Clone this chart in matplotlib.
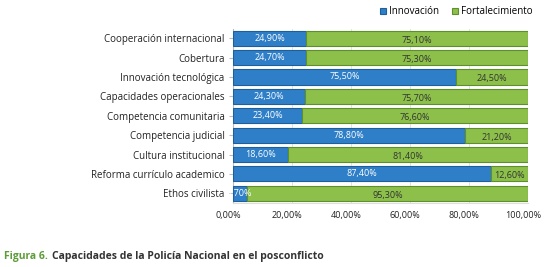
import matplotlib
matplotlib.use("Agg")
import matplotlib.pyplot as plt
import matplotlib.transforms as mtransforms
import numpy as np

categories = ["Cooperación internacional", "Cobertura", "Innovación tecnológica",
              "Capacidades operacionales", "Competencia comunitaria", "Competencia judicial",
              "Cultura institucional", "Reforma currículo academico", "Ethos civilista"]
innovacion = [24.9, 24.7, 75.5, 24.3, 23.4, 78.8, 18.6, 87.4, 4.7]
fortalecimiento = [75.1, 75.3, 24.5, 75.7, 76.6, 21.2, 81.4, 12.6, 95.3]
xticks = [0, 20, 40, 60, 80, 100]
xticklabels = ["0,00%", "20,00%", "40,00%", "60,00%", "80,00%", "100,00%"]

plt.rcParams['font.family'] = ['Open Sans', 'DejaVu Sans']

BLUE = "#2f7fc8"
BLUE_E = "#1d5f9c"
GREEN = "#8cc04a"
GREEN_E = "#5f8f2c"

fig = plt.figure(figsize=(5.44, 2.67), dpi=100)
ax = fig.add_axes([233/544, 1-203/267, 295/544, (203-28.5)/267])

y = np.arange(len(categories))
h = 0.78
ax.barh(y, innovacion, height=h, color=BLUE, edgecolor=BLUE_E, linewidth=0.8, label="Innovación", zorder=3)
ax.barh(y, fortalecimiento, left=innovacion, height=h, color=GREEN, edgecolor=GREEN_E, linewidth=0.8,
        label="Fortalecimiento", zorder=3)

def fmt(v):
    return f"{v:.2f}%".replace(".", ",")

for yi, a, b in zip(y, innovacion, fortalecimiento):
    ax.text(a/2, yi, fmt(a), ha="center", va="center", fontsize=6.5, color="white", zorder=4)
    ax.text(a + b/2, yi + 0.1, fmt(b), ha="center", va="center", fontsize=6.5, color="#333333", zorder=4)

ax.set_xlim(0, 100)
ax.set_ylim(len(categories) - 0.5, -0.5)
ax.set_yticks(y)
ax.set_yticklabels(categories, fontsize=7, color="#222222")
ax.set_xticks(xticks)
ax.set_xticklabels(xticklabels, fontsize=6.5, color="#222222")
ax.xaxis.grid(True, color="#dddddd", linewidth=0.6, zorder=0)
for s in ["top", "right"]:
    ax.spines[s].set_visible(False)
ax.spines["left"].set_color("#bbbbbb")
ax.spines["bottom"].set_color("#dddddd")
ax.tick_params(axis="y", length=3, color="#bbbbbb", pad=3)
ax.tick_params(axis="x", length=0, pad=6)

offset = mtransforms.ScaledTranslation(-5/100, 0, fig.dpi_scale_trans)
for lbl in ax.get_xticklabels():
    lbl.set_transform(lbl.get_transform() + offset)

leg = fig.legend(loc="upper right", bbox_to_anchor=(0.995, 1.01), ncol=2, fontsize=7, frameon=False,
                 handlelength=0.6, handleheight=0.6, handletextpad=0.3, columnspacing=1.4)

fig.text(4/544, 1-256/267, "Figura 6.", fontsize=7.5, fontweight="bold", color="#5e9c3a", va="center")
fig.text(52/544, 1-256/267, "Capacidades de la Policía Nacional en el posconflicto", fontsize=7.5,
         fontweight="bold", color="#333333", va="center")

fig.savefig("out.png", dpi=100)
